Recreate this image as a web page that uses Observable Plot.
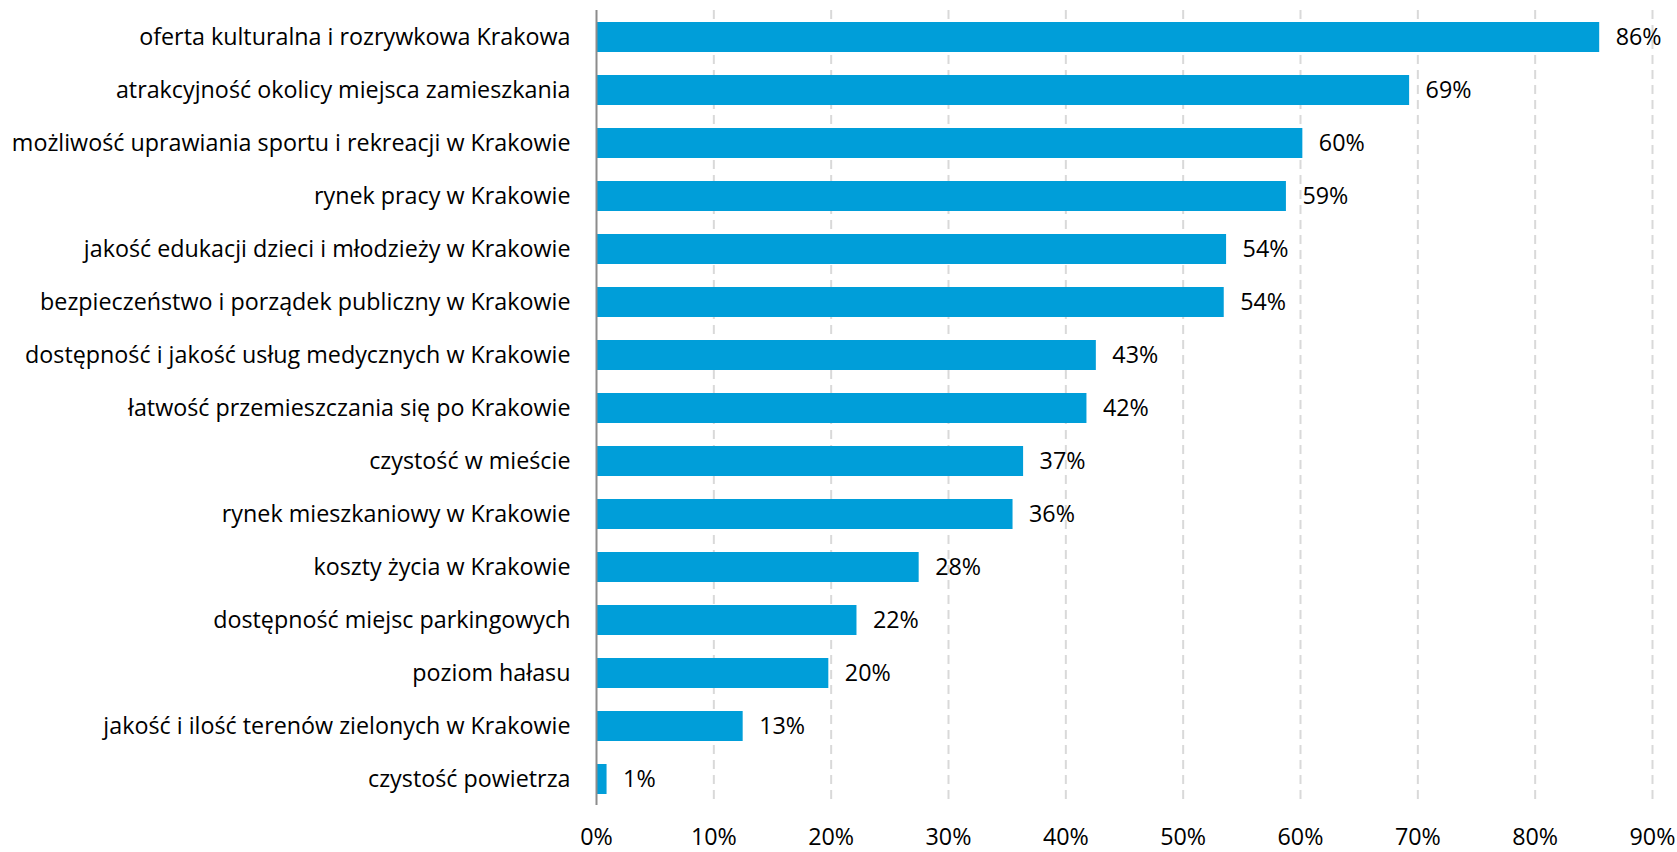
<!DOCTYPE html>
<html>
<head>
<meta charset="utf-8">
<script src="https://cdn.jsdelivr.net/npm/d3@7"></script>
<script src="https://cdn.jsdelivr.net/npm/@observablehq/plot@0.6"></script>
<style>
  html, body { margin: 0; padding: 0; background: #fff; }
  #chart svg { display: block; }
</style>
</head>
<body>
<div id="chart"></div>
<script>
const categories = [
  "oferta kulturalna i rozrywkowa Krakowa",
  "atrakcyjność okolicy miejsca zamieszkania",
  "możliwość uprawiania sportu i rekreacji w Krakowie",
  "rynek pracy w Krakowie",
  "jakość edukacji dzieci i młodzieży w Krakowie",
  "bezpieczeństwo i porządek publiczny w Krakowie",
  "dostępność i jakość usług medycznych w Krakowie",
  "łatwość przemieszczania się po Krakowie",
  "czystość w mieście",
  "rynek mieszkaniowy w Krakowie",
  "koszty życia w Krakowie",
  "dostępność miejsc parkingowych",
  "poziom hałasu",
  "jakość i ilość terenów zielonych w Krakowie",
  "czystość powietrza"
];
const values = [85.5, 69.3, 60.2, 58.8, 53.7, 53.5, 42.6, 41.8, 36.4, 35.5, 27.5, 22.2, 19.8, 12.5, 0.9];
const valueLabels = ["86%", "69%", "60%", "59%", "54%", "54%", "43%", "42%", "37%", "36%", "28%", "22%", "20%", "13%", "1%"];
const xTicks = [0, 10, 20, 30, 40, 50, 60, 70, 80, 90];

const data = categories.map((c, i) => ({category: c, value: values[i], label: valueLabels[i]}));

const font = "'Open Sans', sans-serif";
const fs = 23.3;

const chart = Plot.plot({
  width: 1677,
  height: 852,
  marginLeft: 596,
  marginRight: 25,
  marginTop: 10,
  marginBottom: 47,
  style: {fontFamily: font, fontSize: fs + "px", color: "#000", background: "#fff"},
  x: {domain: [0, 90], label: null},
  y: {domain: categories, paddingInner: 0.434, paddingOuter: 0.217, label: null},
  marks: [
    Plot.gridX(xTicks.filter(d => d > 0), {stroke: "#d9d9d9", strokeOpacity: 1, strokeWidth: 2, strokeDasharray: "9,6"}),
    Plot.barX(data, {x: "value", y: "category", fill: "#009ed9"}),
    Plot.ruleX([0], {stroke: "#8c8c8c", strokeWidth: 2}),
    Plot.text(data, {x: "value", y: "category", text: "label", dx: 16, textAnchor: "start", fill: "#000", fontSize: fs}),
    Plot.axisX(xTicks, {tickSize: 0, tickPadding: 23, tickFormat: d => d + "%", fontSize: fs, fill: "#000", label: null}),
    Plot.axisY({tickSize: 0, tickPadding: 26, fontSize: fs, fill: "#000", label: null})
  ]
});

document.getElementById("chart").appendChild(chart);
</script>
</body>
</html>
